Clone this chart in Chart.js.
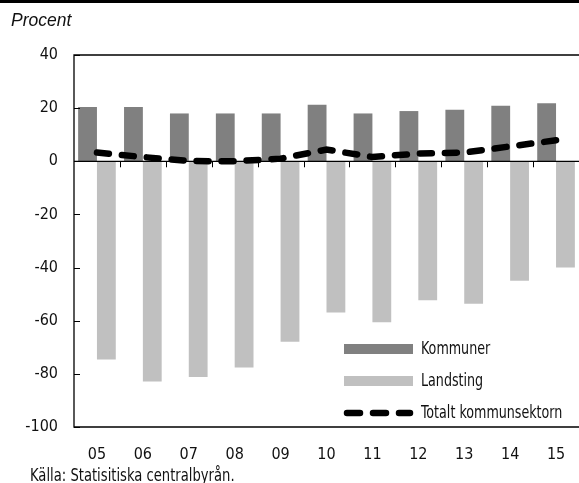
<!DOCTYPE html>
<html>
<head>
<meta charset="utf-8">
<script src="https://cdn.jsdelivr.net/npm/chart.js@4"></script>
<style>
  body { margin: 0; background: #fff; }
  #wrap { position: relative; width: 579px; height: 483px; overflow: hidden; }
  #topbar { position: absolute; left: 0; top: 0; width: 579px; height: 3px; background: #000; }
  #title { position: absolute; left: 11px; top: 10px; font: italic 17.5px "Liberation Sans", Arial, sans-serif; color: #111; }
  #source { position: absolute; left: 30px; top: 465px; white-space: nowrap; font: 17px "DejaVu Sans Condensed", sans-serif; color: #111; transform: scaleX(0.86); transform-origin: left top; }
  canvas { position: absolute; left: 0; top: 0; }
</style>
</head>
<body>
<div id="wrap">
  <canvas id="chart" width="579" height="483"></canvas>
  <div id="topbar"></div>
  <div id="title">Procent</div>
  <div id="source">Källa: Statisitiska centralbyrån.</div>
</div>
<script>
// data
const years = ['05', '06', '07', '08', '09', '10', '11', '12', '13', '14', '15'];
const kommuner = [20.4, 20.4, 18.0, 18.0, 18.0, 21.3, 18.0, 18.9, 19.4, 20.9, 21.8];
const landsting = [-74.6, -82.9, -81.2, -77.6, -67.9, -56.9, -60.6, -52.3, -53.6, -45.0, -40.0];
const totalt = [3.3, 1.6, 0.1, 0.0, 1.0, 4.4, 1.6, 2.9, 3.3, 5.6, 7.9];
const yTicks = [40, 20, 0, -20, -40, -60, -80, -100];

const narrow = '"DejaVu Sans Condensed", sans-serif';

// frame, zero line, inward ticks and legend
const decor = {
  id: 'decor',
  afterDatasetsDraw(chart) {
    const { ctx, chartArea: a, scales } = chart;
    const y = scales.y;
    ctx.save();
    ctx.strokeStyle = '#000';
    ctx.lineWidth = 1.3;
    ctx.beginPath();
    ctx.moveTo(a.right, a.top); ctx.lineTo(a.left, a.top);
    ctx.lineTo(a.left, a.bottom); ctx.lineTo(a.right, a.bottom);
    ctx.stroke();
    // zero line
    const y0 = y.getPixelForValue(0);
    ctx.beginPath();
    ctx.moveTo(a.left, y0); ctx.lineTo(a.right, y0);
    ctx.stroke();
    // category boundary ticks
    const step = (a.right - a.left) / years.length;
    ctx.lineWidth = 1;
    for (let i = 1; i < years.length; i++) {
      const px = Math.round(a.left + step * i) + 0.5;
      ctx.beginPath(); ctx.moveTo(px, y0); ctx.lineTo(px, y0 + 6); ctx.stroke();
    }
    // y ticks inward
    yTicks.forEach(v => {
      const py = Math.round(y.getPixelForValue(v)) + 0.5;
      ctx.beginPath(); ctx.moveTo(a.left, py); ctx.lineTo(a.left + 6, py); ctx.stroke();
    });
    ctx.restore();

    // legend
    ctx.save();
    const lx = 344, lw = 69;
    const items = [
      { label: 'Kommuner', type: 'box', color: '#808080', cy: 349 },
      { label: 'Landsting', type: 'box', color: '#c0c0c0', cy: 381 },
      { label: 'Totalt kommunsektorn', type: 'line', color: '#000', cy: 413 }
    ];
    ctx.font = '17px ' + narrow;
    ctx.textBaseline = 'middle';
    items.forEach(it => {
      if (it.type === 'box') {
        ctx.fillStyle = it.color;
        ctx.fillRect(lx, it.cy - 5, lw, 10);
      } else {
        ctx.strokeStyle = it.color;
        ctx.lineWidth = 6.5;
        ctx.lineCap = 'round';
        ctx.setLineDash([13, 13]);
        ctx.beginPath(); ctx.moveTo(lx + 3, it.cy); ctx.lineTo(lx + lw - 3, it.cy); ctx.stroke();
        ctx.setLineDash([]);
      }
      ctx.save();
      ctx.translate(421, it.cy + 1);
      ctx.scale(0.83, 1);
      ctx.fillStyle = '#111';
      ctx.fillText(it.label, 0, 0);
      ctx.restore();
    });
    ctx.restore();
  }
};

new Chart(document.getElementById('chart'), {
  type: 'bar',
  data: {
    labels: years,
    datasets: [
      {
        type: 'line',
        label: 'Totalt kommunsektorn',
        data: totalt,
        borderColor: '#000',
        borderWidth: 6.5,
        borderDash: [12, 13],
        borderCapStyle: 'round',
        pointRadius: 0,
        tension: 0,
        order: 0
      },
      {
        label: 'Kommuner',
        data: kommuner,
        backgroundColor: '#808080',
        categoryPercentage: 0.82,
        barPercentage: 1,
        order: 1
      },
      {
        label: 'Landsting',
        data: landsting,
        backgroundColor: '#c0c0c0',
        categoryPercentage: 0.82,
        barPercentage: 1,
        order: 1
      }
    ]
  },
  options: {
    responsive: false,
    animation: false,
    layout: { padding: { top: 55, left: 0, right: 0, bottom: 0 } },
    plugins: { legend: { display: false }, tooltip: { enabled: false } },
    scales: {
      x: {
        grid: { display: false },
        border: { display: false },
        ticks: { color: '#111', font: { family: narrow, size: 16 }, padding: 10, maxRotation: 0 },
        afterFit(s) { s.height = 56; }
      },
      y: {
        min: -100,
        max: 40,
        grid: { display: false },
        border: { display: false },
        ticks: { stepSize: 20, color: '#111', font: { family: narrow, size: 16 }, padding: 8 },
        afterFit(s) { s.width = 74; }
      }
    }
  },
  plugins: [decor]
});
</script>
</body>
</html>
